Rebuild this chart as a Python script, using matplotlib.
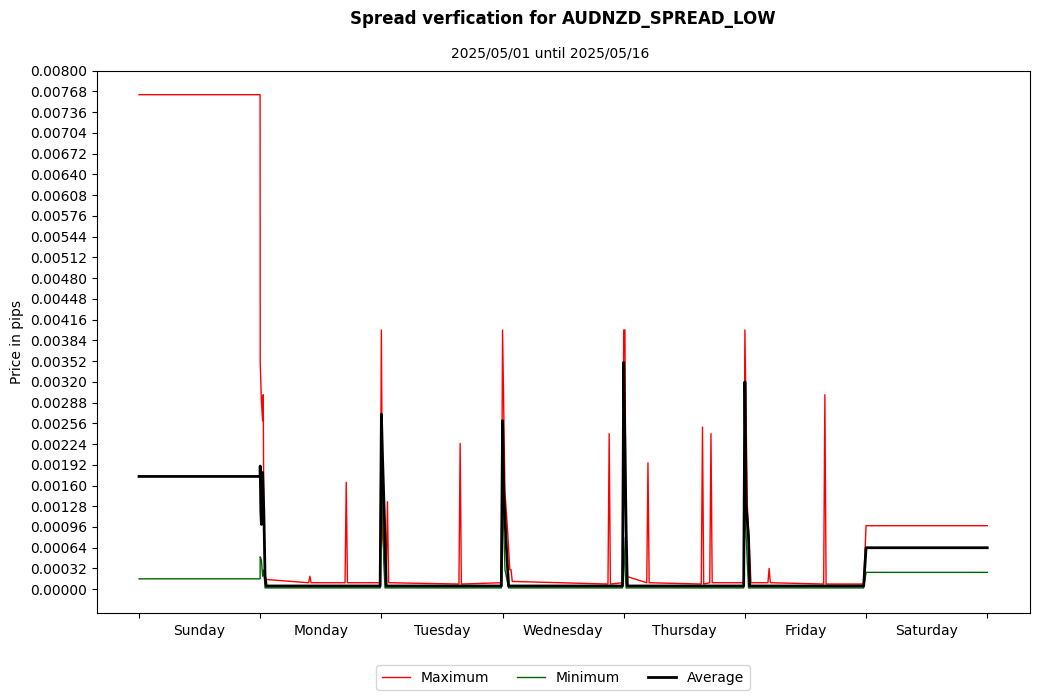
import matplotlib
matplotlib.use("Agg")
import matplotlib.pyplot as plt
from matplotlib.ticker import FixedLocator, NullFormatter

days = ["Sunday", "Monday", "Tuesday", "Wednesday", "Thursday", "Friday", "Saturday"]

# breakpoints in day units (0 = start of Sunday)
max_x = [0, 0.999, 1.0, 1.01, 1.02, 1.025, 1.03, 1.04, 1.05, 1.4, 1.41, 1.42, 1.7, 1.71, 1.72,
         1.99, 2.0, 2.01, 2.04, 2.05, 2.06, 2.64, 2.65, 2.66, 2.99, 3.0, 3.02, 3.04, 3.06, 3.07, 3.08,
         3.87, 3.88, 3.89, 3.99, 4.0, 4.01, 4.02, 4.19, 4.2, 4.21, 4.64, 4.65, 4.66, 4.71, 4.72, 4.73,
         4.99, 5.0, 5.02, 5.03, 5.05, 5.19, 5.2, 5.21, 5.65, 5.66, 5.67, 5.98, 6.0, 7.0]
max_y = [0.00763, 0.00763, 0.0035, 0.0029, 0.0026, 0.0030, 0.0010, 0.00018, 0.00015, 0.0001, 0.0002, 0.0001,
         0.0001, 0.00165, 0.0001, 0.0001, 0.0040, 0.0008, 0.0002, 0.00135, 0.0001, 0.00008, 0.00225, 0.00008,
         0.0001, 0.0040, 0.0015, 0.00095, 0.0003, 0.0003, 0.00012, 0.00008, 0.0024, 0.00008, 0.0001, 0.0040,
         0.0040, 0.0002, 0.0001, 0.00195, 0.0001, 0.00008, 0.0025, 0.00008, 0.0001, 0.0024, 0.0001, 0.0001,
         0.0040, 0.0013, 0.0009, 0.0001, 0.0001, 0.00032, 0.0001, 0.00008, 0.0030, 0.00008, 0.00008, 0.00098,
         0.00098]

min_x = [0, 0.999, 1.0, 1.01, 1.02, 1.03, 1.04, 1.99, 2.0, 2.02, 2.03, 2.99, 3.0, 3.02, 3.05,
         3.99, 4.0, 4.01, 4.02, 4.99, 5.0, 5.02, 5.03, 5.98, 6.0, 7.0]
min_y = [0.00016, 0.00016, 0.0005, 0.00045, 0.0002, 0.0003, 0.00002, 0.00002, 0.0025, 0.0004, 0.00002,
         0.00002, 0.0015, 0.0003, 0.00002, 0.00002, 0.0008, 0.0003, 0.00002, 0.00002, 0.0013, 0.0004,
         0.00002, 0.00002, 0.00026, 0.00026]

avg_x = [0, 0.999, 1.0, 1.005, 1.01, 1.02, 1.03, 1.04, 1.05, 1.99, 2.0, 2.01, 2.03, 2.04,
         2.99, 3.0, 3.01, 3.03, 3.05, 3.99, 4.0, 4.01, 4.02, 4.03, 4.99, 5.0, 5.01, 5.03, 5.04,
         5.98, 6.0, 7.0]
avg_y = [0.00174, 0.00174, 0.0019, 0.0012, 0.0010, 0.0018, 0.0012, 0.0002, 0.00005, 0.00005, 0.0027, 0.0020,
         0.0008, 0.00005, 0.00005, 0.0026, 0.0015, 0.0007, 0.00005, 0.00005, 0.0035, 0.0022, 0.0009, 0.00005,
         0.00005, 0.0032, 0.0013, 0.0008, 0.00005, 0.00005, 0.00064, 0.00064]

fig = plt.figure(figsize=(10.39, 7.0), dpi=100)
ax = fig.add_axes([0.093, 0.124, 0.898, 0.775])

ax.plot(max_x, max_y, color="red", lw=1, label="Maximum")
ax.plot(min_x, min_y, color="#006400", lw=1, label="Minimum")
ax.plot(avg_x, avg_y, color="black", lw=2, label="Average")

yt = [i * 0.00032 for i in range(26)]
ax.set_yticks(yt)
ax.set_yticklabels([f"{v:.5f}" for v in yt])
ax.set_ylim(-0.00037, 0.0080)
ax.set_xlim(-0.35, 7.35)
ax.xaxis.set_major_locator(FixedLocator(range(8)))
ax.xaxis.set_major_formatter(NullFormatter())
ax.xaxis.set_minor_locator(FixedLocator([i + 0.5 for i in range(7)]))
ax.set_xticklabels(days, minor=True)
ax.tick_params(axis="x", which="minor", length=0, pad=8)
ax.set_ylabel("Price in pips")

fig.suptitle("Spread verfication for AUDNZD_SPREAD_LOW", fontsize=12, fontweight="bold", x=0.542, y=0.985)
fig.text(0.530, 0.924, "2025/05/01 until 2025/05/16", fontsize=10, ha="center", va="center")
fig.legend(loc="lower center", ncol=3, bbox_to_anchor=(0.542, 0.004))

fig.savefig("out.png", dpi=100)
